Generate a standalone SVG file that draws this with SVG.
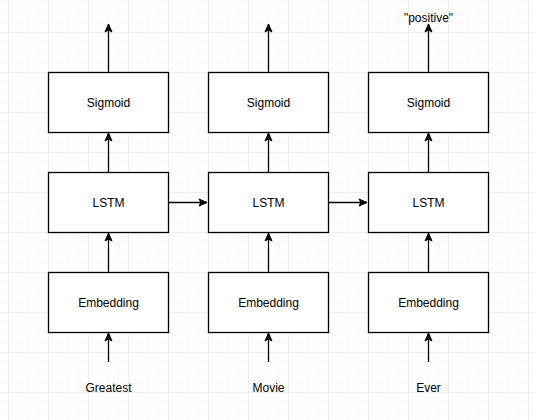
<svg xmlns="http://www.w3.org/2000/svg" width="534" height="420" viewBox="0 0 534 420">
<defs>
<pattern id="minor" x="8" y="2" width="10" height="10" patternUnits="userSpaceOnUse">
<path d="M0 0H10M0 0V10" fill="none" stroke="#f1f1f1" stroke-width="1"/>
</pattern>
<pattern id="major" x="8" y="32" width="40" height="40" patternUnits="userSpaceOnUse">
<path d="M0 0H40M0 0V40" fill="none" stroke="#e4e4e4" stroke-width="1"/>
</pattern>
<marker id="arr" markerWidth="10" markerHeight="10" viewBox="0 0 10 10" refX="9" refY="5" orient="auto" markerUnits="userSpaceOnUse">
<path d="M1 1.5L9 5L1 8.5L3 5Z" fill="#000" stroke="#000" stroke-width="1"/>
</marker>
</defs>
<style>
.box{fill:#fff;stroke:#000;stroke-width:1.3}
.lbl{font-family:"Liberation Sans",Arial,sans-serif;font-size:12px;fill:#000;text-anchor:middle}
.edge{stroke:#000;stroke-width:1.3;fill:none;marker-end:url(#arr)}
</style>
<rect width="534" height="420" fill="#fff"/>
<rect width="534" height="420" fill="url(#minor)"/>
<rect width="534" height="420" fill="url(#major)"/>
<g id="connectors">
<path class="edge" d="M108.5 72V24"/>
<path class="edge" d="M268.5 72V24"/>
<path class="edge" d="M428.5 72V24"/>
<path class="edge" d="M108.5 172V133"/>
<path class="edge" d="M268.5 172V133"/>
<path class="edge" d="M428.5 172V133"/>
<path class="edge" d="M108.5 272V233"/>
<path class="edge" d="M268.5 272V233"/>
<path class="edge" d="M428.5 272V233"/>
<path class="edge" d="M108.5 362V333"/>
<path class="edge" d="M268.5 362V333"/>
<path class="edge" d="M428.5 362V333"/>
<path class="edge" d="M168.5 202.5H207"/>
<path class="edge" d="M328.5 202.5H367"/>
</g>
<g id="sigmoid1"><rect class="box" x="48.5" y="72.5" width="120" height="60"/><text class="lbl" x="108.5" y="106.5">Sigmoid</text></g>
<g id="sigmoid2"><rect class="box" x="208.5" y="72.5" width="120" height="60"/><text class="lbl" x="268.5" y="106.5">Sigmoid</text></g>
<g id="sigmoid3"><rect class="box" x="368.5" y="72.5" width="120" height="60"/><text class="lbl" x="428.5" y="106.5">Sigmoid</text></g>
<g id="lstm1"><rect class="box" x="48.5" y="172.5" width="120" height="60"/><text class="lbl" x="108.5" y="206.5">LSTM</text></g>
<g id="lstm2"><rect class="box" x="208.5" y="172.5" width="120" height="60"/><text class="lbl" x="268.5" y="206.5">LSTM</text></g>
<g id="lstm3"><rect class="box" x="368.5" y="172.5" width="120" height="60"/><text class="lbl" x="428.5" y="206.5">LSTM</text></g>
<g id="emb1"><rect class="box" x="48.5" y="272.5" width="120" height="60"/><text class="lbl" x="108.5" y="306.5">Embedding</text></g>
<g id="emb2"><rect class="box" x="208.5" y="272.5" width="120" height="60"/><text class="lbl" x="268.5" y="306.5">Embedding</text></g>
<g id="emb3"><rect class="box" x="368.5" y="272.5" width="120" height="60"/><text class="lbl" x="428.5" y="306.5">Embedding</text></g>
<g id="word1"><text class="lbl" x="108.5" y="392">Greatest</text></g>
<g id="word2"><text class="lbl" x="268.5" y="392">Movie</text></g>
<g id="word3"><text class="lbl" x="428.5" y="392">Ever</text></g>
<g id="output"><text class="lbl" x="428.5" y="22">"positive"</text></g>
</svg>
